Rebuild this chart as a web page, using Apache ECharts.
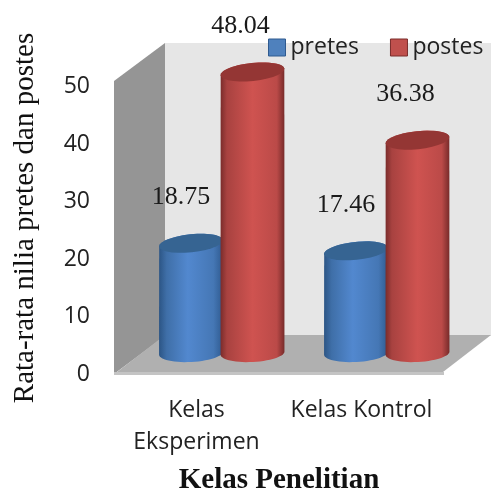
<!DOCTYPE html>
<html>
<head>
<meta charset="utf-8">
<style>html,body{margin:0;padding:0;background:#fff}#c{width:491px;height:490px}</style>
<script src="https://cdn.jsdelivr.net/npm/echarts@6/dist/echarts.min.js"></script>
</head>
<body>
<div id="c"></div>
<script>
var categories = ['Kelas\nEksperimen', 'Kelas Kontrol'];
var pretes = [18.75, 17.46];
var postes = [48.04, 36.38];
var yTicks = [0, 10, 20, 30, 40, 50];

var SANS = '"Open Sans", "Noto Sans", sans-serif';
var SERIF = '"Liberation Serif", serif';

function ring(cx, cy, rx, ry, rotDeg, from, to) {
  var r = rotDeg * Math.PI / 180, out = [], n = 28;
  for (var i = 0; i <= n; i++) {
    var t = from + (to - from) * i / n;
    out.push([
      cx + rx * Math.cos(t) * Math.cos(r) - ry * Math.sin(t) * Math.sin(r),
      cy + rx * Math.cos(t) * Math.sin(r) + ry * Math.sin(t) * Math.cos(r)
    ]);
  }
  return out;
}

function cylinder(shift, labelDx, stops, capColor) {
  return function (params, api) {
    var idx = api.value(0), val = api.value(1);
    var top = api.coord([idx, val]);
    var base = api.coord([idx, 0]);
    var cx = top[0] + shift, rx = 32, ry = 9;
    var body = ring(cx, top[1], rx, ry, -6, Math.PI, 2 * Math.PI)
      .concat(ring(cx, base[1], rx, ry, -3, 0, Math.PI));
    return {
      type: 'group',
      children: [
        { type: 'polygon', shape: { points: body }, style: {
            fill: { type: 'linear', x: 0, y: 0, x2: 1, y2: 0, colorStops: stops } } },
        { type: 'polygon', shape: { points: ring(cx, top[1], rx, ry, -6, 0, 2 * Math.PI) },
          style: { fill: capColor } },
        { type: 'text', x: cx + labelDx, y: top[1] - 46, style: {
            text: api.value(1).toFixed(2), font: '26px ' + SERIF, fill: '#1a1a1a',
            align: 'center', verticalAlign: 'middle' } }
      ]
    };
  };
}

var blueStops = [
  { offset: 0, color: '#2c5585' }, { offset: 0.12, color: '#3f6fa8' },
  { offset: 0.45, color: '#5288cf' }, { offset: 0.85, color: '#4577b5' },
  { offset: 1, color: '#2f5a8f' }
];
var redStops = [
  { offset: 0, color: '#7a2c2b' }, { offset: 0.1, color: '#a84240' },
  { offset: 0.5, color: '#cf5350' }, { offset: 0.88, color: '#bb4a48' },
  { offset: 1, color: '#772b2a' }
];

function rows(values) {
  return values.map(function (v, i) { return [i, v]; });
}

var option = {
  animation: false,
  backgroundColor: '#fff',
  legend: {
    left: 268, top: 36, width: 223, padding: 0, orient: 'horizontal',
    itemWidth: 17, itemHeight: 17, itemGap: 31,
    textStyle: { fontFamily: SANS, fontSize: 23, color: '#222' },
    data: [
      { name: 'pretes', icon: 'rect', itemStyle: { color: '#4f81bd', borderColor: '#2f5a8f', borderWidth: 1 } },
      { name: 'postes', icon: 'rect', itemStyle: { color: '#c0504d', borderColor: '#7a2c2b', borderWidth: 1 } }
    ]
  },
  grid: [
    { left: 114, right: 47, top: 86.5, bottom: 115.5, outerBoundsMode: 'none' },
    { left: 139.5, width: 330, top: 60.5, height: 292.5, outerBoundsMode: 'none' }
  ],
  xAxis: [
    {
      type: 'category', gridIndex: 0, data: categories,
      axisLine: { show: false }, axisTick: { show: false },
      axisLabel: { interval: 0, fontFamily: SANS, fontSize: 23, color: '#222', lineHeight: 32, margin: 19.5 },
      name: 'Kelas Penelitian', nameLocation: 'middle', nameGap: 91.5,
      nameTextStyle: { fontFamily: SERIF, fontSize: 29, fontWeight: 'bold', color: '#111' }
    },
    { type: 'category', gridIndex: 1, data: categories, show: false }
  ],
  yAxis: [
    {
      type: 'value', gridIndex: 0, min: yTicks[0], max: yTicks[yTicks.length - 1], interval: 10,
      axisLine: { show: false }, axisTick: { show: false }, splitLine: { show: false },
      axisLabel: { fontFamily: SANS, fontSize: 23, color: '#222', margin: 24 },
      name: 'Rata-rata nilia pretes dan postes', nameLocation: 'middle', nameGap: 74, nameRotate: 90,
      nameTextStyle: { fontFamily: SERIF, fontSize: 29, color: '#111', padding: [0, 0, 0, 25] }
    },
    { type: 'value', gridIndex: 1, min: 0, max: 50, show: false, splitLine: { show: false } }
  ],
  graphic: [
    { type: 'polygon', z: 0, shape: { points: [[165, 43], [491, 43], [491, 336], [165, 336]] }, style: { fill: '#e6e6e6' } },
    { type: 'polygon', z: 0, shape: { points: [[114, 81], [165, 43], [165, 336], [114, 374]] }, style: { fill: '#959595' } },
    { type: 'polygon', z: 0, shape: { points: [[114, 372], [444, 372], [444, 375], [114, 375]] }, style: { fill: '#c4c4c4' } },
    { type: 'polygon', z: 0, shape: { points: [[117, 372], [443, 372], [491, 335], [165, 335]] }, style: { fill: '#b0b0b0' } }
  ],
  series: [
    { type: 'custom', name: 'pretes', xAxisIndex: 1, yAxisIndex: 1, z: 3, itemStyle: { color: '#4f81bd' },
      data: rows(pretes), renderItem: cylinder(-31, -10, blueStops, '#366492') },
    { type: 'custom', name: 'postes', xAxisIndex: 1, yAxisIndex: 1, z: 4, itemStyle: { color: '#c0504d' },
      data: rows(postes), renderItem: cylinder(30.5, -12, redStops, '#943634') }
  ]
};
echarts.init(document.getElementById('c')).setOption(option);
</script>
</body>
</html>
